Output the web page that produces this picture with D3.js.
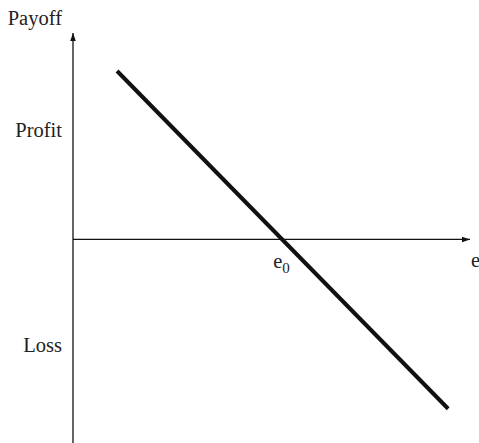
<!DOCTYPE html>
<html>
<head>
<meta charset="utf-8">
<script src="https://cdn.jsdelivr.net/npm/d3@7/dist/d3.min.js"></script>
<style>
  html, body { margin: 0; padding: 0; background: #fff; }
  svg { display: block; }
  text { font-family: "Liberation Serif", "Times New Roman", serif; fill: #222; }
</style>
</head>
<body>
<svg id="chart" width="479" height="443"></svg>
<script>
// Payoff line: two end points (exchange rate e, payoff)
const payoffLine = [
  { e: 11.1, payoff: 40.8 },
  { e: 94.5, payoff: -41.0 }
];
// Break-even rate on the horizontal axis
const breakEven = 52.7;
// Region labels on the vertical axis
const regionLabels = [
  { text: "Profit", payoff: 26.5 },
  { text: "Loss", payoff: -25.5 }
];
const axisTitles = { y: "Payoff", x: "e" };

const svg = d3.select("#chart");

const x = d3.scaleLinear().domain([0, 100]).range([73, 470]);
const y = d3.scaleLinear().domain([-49.3, 50]).range([443, 33]);

// Arrowhead marker
const defs = svg.append("defs");
defs.append("marker")
  .attr("id", "arrow")
  .attr("viewBox", "0 0 10 10")
  .attr("refX", 10).attr("refY", 5)
  .attr("markerWidth", 8).attr("markerHeight", 8)
  .attr("markerUnits", "userSpaceOnUse")
  .attr("orient", "auto")
  .append("path")
  .attr("d", "M0,1.5 L10,5 L0,8.5 Z")
  .attr("fill", "#111");

// Vertical axis
svg.append("line")
  .attr("x1", x(0)).attr("x2", x(0))
  .attr("y1", y(-49.3)).attr("y2", y(50))
  .attr("stroke", "#111").attr("stroke-width", 1.3)
  .attr("marker-end", "url(#arrow)");

// Horizontal axis
svg.append("line")
  .attr("x1", x(0)).attr("x2", x(100))
  .attr("y1", y(0)).attr("y2", y(0))
  .attr("stroke", "#111").attr("stroke-width", 1.3)
  .attr("marker-end", "url(#arrow)");

// Payoff line
const line = d3.line().x(d => x(d.e)).y(d => y(d.payoff));
svg.append("path")
  .datum(payoffLine)
  .attr("d", line)
  .attr("fill", "none")
  .attr("stroke", "#111")
  .attr("stroke-width", 4);

// Axis titles
svg.append("text")
  .attr("x", 62).attr("y", 25)
  .attr("text-anchor", "end")
  .attr("font-size", 20.5)
  .text(axisTitles.y);

svg.append("text")
  .attr("x", 471).attr("y", 267)
  .attr("font-size", 20.5)
  .text(axisTitles.x);

// Break-even label e0
const e0 = svg.append("text")
  .attr("x", x(breakEven) - 9).attr("y", 268)
  .attr("font-size", 20.5);
e0.append("tspan").text("e");
e0.append("tspan").attr("font-size", 15).attr("dy", 5).text("0");

// Profit / Loss labels
svg.selectAll(".region")
  .data(regionLabels)
  .join("text")
  .attr("class", "region")
  .attr("x", 62)
  .attr("y", d => y(d.payoff) + 7)
  .attr("text-anchor", "end")
  .attr("font-size", 20.5)
  .text(d => d.text);
</script>
</body>
</html>
